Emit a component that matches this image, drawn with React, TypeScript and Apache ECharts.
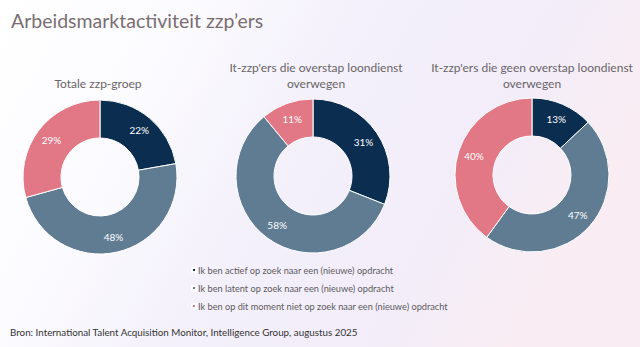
import React, { useEffect, useRef } from "react";
import * as echarts from "echarts";

const categories = [
  "Ik ben actief op zoek naar een (nieuwe) opdracht",
  "Ik ben latent op zoek naar een (nieuwe) opdracht",
  "Ik ben op dit moment niet op zoek naar een (nieuwe) opdracht",
];
const groupTitles = [
  "Totale zzp-groep",
  "It-zzp'ers die overstap loondienst\noverwegen",
  "It-zzp'ers die geen overstap loondienst\noverwegen",
];
const totaalValues = [22, 48, 29];
const overstapValues = [31, 58, 11];
const geenOverstapValues = [13, 47, 40];
const colors = ["#0b2d50", "#5f7c93", "#e27785"];

const FONT = "Lato, 'Open Sans', sans-serif";

export default function App() {
  const ref = useRef<HTMLDivElement>(null);
  useEffect(() => {
    document.body.style.margin = "0";
    const chart = echarts.init(ref.current!, null, { renderer: "svg" });
    const seriesData = [totaalValues, overstapValues, geenOverstapValues];
    const centers = [
      [100, 177],
      [313, 176],
      [532, 175],
    ];
    const titleX = [98, 316, 532];
    const titleY = [75, 59, 59];
    chart.setOption({
      animation: false,
      backgroundColor: {
        type: "linear",
        x: 0,
        y: 0,
        x2: 1,
        y2: 0.3,
        colorStops: [
          { offset: 0, color: "#ffffff" },
          { offset: 0.3, color: "#fbfafe" },
          { offset: 0.5, color: "#f4f1fb" },
          { offset: 0.8, color: "#f2edf9" },
          { offset: 1, color: "#f9edf3" },
        ],
      },
      color: colors,
      title: [
        {
          text: "Arbeidsmarktactiviteit zzp\u2019ers",
          left: 11,
          top: 10,
          padding: 0,
          textStyle: { fontFamily: FONT, fontSize: 19.5, fontWeight: "normal", color: "#7a6e71" },
        },
        ...groupTitles.map((t, i) => ({
          text: t,
          left: titleX[i],
          top: titleY[i],
          padding: 0,
          textAlign: "center",
          textStyle: {
            fontFamily: FONT,
            fontSize: 12,
            fontWeight: "normal",
            color: "#6a6468",
            lineHeight: 16,
          },
        })),
        {
          text: "Bron: International Talent Acquisition Monitor, Intelligence Group, augustus 2025",
          left: 10,
          top: 327,
          padding: 0,
          textStyle: { fontFamily: FONT, fontSize: 9.8, fontWeight: "normal", color: "#333333" },
        },
      ],
      legend: {
        orient: "vertical",
        left: 191,
        top: 264,
        padding: 0,
        icon: "rect",
        itemWidth: 4,
        itemHeight: 4,
        itemGap: 6,
        data: categories,
        selectedMode: false,
        textStyle: { fontFamily: FONT, fontSize: 9.2, color: "#5d5a5d", lineHeight: 12, padding: [0, 0, 0, -3] },
      },
      series: seriesData.map((vals, i) => ({
        type: "pie",
        center: centers[i],
        radius: [39, 77],
        startAngle: 90,
        clockwise: true,
        itemStyle: { borderColor: "#ffffff", borderWidth: 1 },
        label: {
          show: true,
          position: "inside",
          formatter: "{c}%",
          color: "#ffffff",
          fontFamily: FONT,
          fontSize: 10,
        },
        labelLine: { show: false },
        emphasis: { disabled: true },
        data: categories.map((c, j) => ({ name: c, value: vals[j] })),
      })),
    });
    return () => chart.dispose();
  }, []);
  return <div ref={ref} style={{ width: 640, height: 347, position: "absolute", left: 0, top: 0 }} />;
}
